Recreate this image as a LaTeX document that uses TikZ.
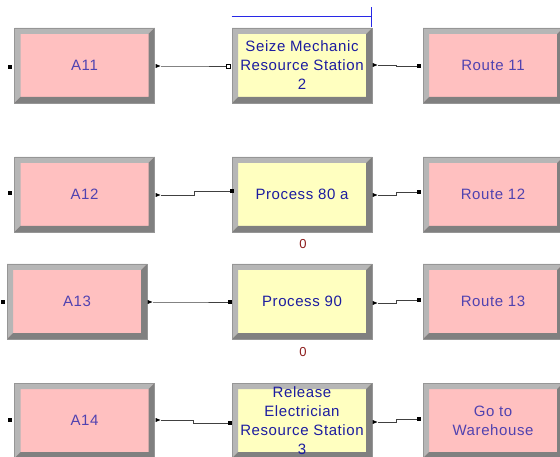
\documentclass[tikz,border=0pt]{standalone}
\usepackage{fontspec}
\setmainfont{Liberation Sans}[LetterSpace=4]
\usetikzlibrary{calc,shapes.geometric}
\definecolor{pinkfill}{RGB}{255,192,192}
\definecolor{yellowfill}{RGB}{255,255,192}
\definecolor{pinktext}{RGB}{80,66,176}
\definecolor{yellowtext}{RGB}{28,28,160}
\definecolor{bevlight}{RGB}{182,182,182}
\definecolor{bevdark}{RGB}{128,128,128}
\definecolor{edgegray}{RGB}{150,150,150}
\definecolor{zerored}{RGB}{140,28,28}
\definecolor{wirebl}{RGB}{40,40,230}

\begin{document}
\begin{tikzpicture}[x=1pt, y=-1pt,
    module/.style={draw=edgegray, line width=0.6pt, fill=#1, minimum width=140pt,
      minimum height=75pt, inner sep=0pt, align=center,
      font=\fontsize{15}{19}\selectfont,
      path picture={
        \fill[bevlight] (path picture bounding box.south west) -- (path picture bounding box.north west)
          -- (path picture bounding box.north east) -- ([shift={(-6pt,-6pt)}]path picture bounding box.north east)
          -- ([shift={(6pt,-6pt)}]path picture bounding box.north west) -- ([shift={(6pt,6pt)}]path picture bounding box.south west) -- cycle;
        \fill[bevdark] (path picture bounding box.south west) -- (path picture bounding box.south east)
          -- (path picture bounding box.north east) -- ([shift={(-6pt,-6pt)}]path picture bounding box.north east)
          -- ([shift={(-6pt,6pt)}]path picture bounding box.south east) -- ([shift={(6pt,6pt)}]path picture bounding box.south west) -- cycle;
      }},
    pinkbox/.style={module=pinkfill, text=pinktext},
    yellowbox/.style={module=yellowfill, text=yellowtext},
    inport/.style={fill=black, minimum size=4pt, inner sep=0pt},
    openport/.style={draw=black, fill=white, line width=0.5pt, minimum size=4pt, inner sep=0pt},
    outport/.style={isosceles triangle, fill=black, minimum height=4pt, minimum width=4pt, inner sep=0pt},
    conn/.style={draw=black!75, line width=0.7pt,
      to path={-| ($(\tikztostart)!.5!(\tikztotarget)$) |- (\tikztotarget)}},
    zero/.style={text=zerored, font=\fontsize{13}{14}\selectfont, inner sep=0pt}]
    \useasboundingbox (0,0) rectangle (560,457);
    % row 1
    \node[pinkbox] (a11) at (84.5,65.5) {A11};
    \node[yellowbox] (seize) at (302,65.5) {Seize Mechanic\\Resource Station\\2};
    \node[pinkbox] (route11) at (493,65.5) {Route 11};
    % row 2
    \node[pinkbox] (a12) at (84.5,194.5) {A12};
    \node[yellowbox] (proc80) at (302,194.5) {Process 80 a};
    \node[pinkbox] (route12) at (493,194.5) {Route 12};
    \node[zero] (z80) at (303,244) {0};
    % row 3
    \node[pinkbox] (a13) at (77,301.5) {A13};
    \node[yellowbox] (proc90) at (302,301.5) {Process 90};
    \node[pinkbox] (route13) at (493,301.5) {Route 13};
    \node[zero] (z90) at (303,352) {0};
    % row 4
    \node[pinkbox] (a14) at (84.5,420.5) {A14};
    \node[yellowbox] (release) at (302,420.5) {Release\\Electrician\\Resource Station\\3};
    \node[pinkbox] (warehouse) at (493,420.5) {Go to\\Warehouse};
    % ports
    \node[inport] (a11i) at (10,67) {};
    \node[outport] (a11o) at (157,66) {};
    \node[openport] (seizei) at (228,66) {};
    \node[outport] (seizeo) at (374,65) {};
    \node[inport] (route11i) at (419,66) {};
    \node[inport] (a12i) at (10,193) {};
    \node[outport] (a12o) at (157,195) {};
    \node[inport] (proc80i) at (232,191) {};
    \node[outport] (proc80o) at (374,195) {};
    \node[inport] (route12i) at (419,192) {};
    \node[inport] (a13i) at (3,302) {};
    \node[outport] (a13o) at (149,302) {};
    \node[inport] (proc90i) at (230,302) {};
    \node[outport] (proc90o) at (374,303) {};
    \node[inport] (route13i) at (419,300) {};
    \node[inport] (a14i) at (10,420) {};
    \node[outport] (a14o) at (157,420) {};
    \node[inport] (releasei) at (230,423) {};
    \node[outport] (releaseo) at (374,422) {};
    \node[inport] (warehousei) at (419,419) {};
    % connections
    \draw[conn] (a11o) to (seizei);
    \draw[conn] (seizeo) to (route11i);
    \draw[conn] (a12o) to (proc80i);
    \draw[conn] (proc80o) to (route12i);
    \draw[conn] (a13o) to (proc90i);
    \draw[conn] (proc90o) to (route13i);
    \draw[conn] (a14o) to (releasei);
    \draw[conn] (releaseo) to (warehousei);
    % wire above the seize module
    \draw[wirebl, line width=0.8pt] ([yshift=11pt]seize.north west) -- ([xshift=-1pt,yshift=11pt]seize.north east)
      -- ([xshift=-1pt,yshift=21pt]seize.north east);
    \draw[wirebl, line width=0.8pt] ([xshift=-1pt,yshift=11pt]seize.north east) -- ([xshift=-1pt,yshift=1pt]seize.north east);
\end{tikzpicture}
\end{document}
